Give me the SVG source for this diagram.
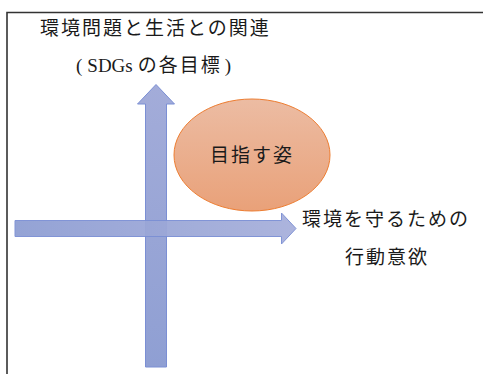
<svg xmlns="http://www.w3.org/2000/svg" width="483" height="374" viewBox="0 0 483 374">
<style>
.t{font-family:"Noto Sans CJK JP","Noto Sans CJK SC",sans-serif;font-size:19px;fill:#1a1a1a;letter-spacing:2px}
.s{font-family:"Liberation Serif","Noto Sans CJK JP",serif;letter-spacing:0}
.arrow{stroke:#7b8fd4;stroke-width:1}
</style>
<defs>
<linearGradient id="gv" x1="0" y1="0" x2="0" y2="1">
<stop offset="0" stop-color="#a3acd9"/>
<stop offset="1" stop-color="#8f9fd3"/>
</linearGradient>
<linearGradient id="gh" x1="0" y1="0" x2="1" y2="0">
<stop offset="0" stop-color="#8f9fd3"/>
<stop offset="1" stop-color="#a8b0dc"/>
</linearGradient>
<linearGradient id="ge" x1="0" y1="0" x2="0" y2="1">
<stop offset="0" stop-color="#ecbca3"/>
<stop offset="1" stop-color="#e9a179"/>
</linearGradient>
</defs>
<rect x="0" y="0" width="483" height="374" fill="#fff"/>
<path d="M7 374 V12.5 H483" fill="none" stroke="#333" stroke-width="1.6"/>
<g id="connectors">
<polygon id="vertical-arrow" class="arrow" fill="url(#gv)" points="145.5,367 145.5,104 137.5,104 156,84.5 174.5,104 166.5,104 166.5,367"/>
<polygon id="horizontal-arrow" class="arrow" fill="url(#gh)" opacity="0.95" points="15,220.5 281.5,220.5 281.5,213 296,228.5 281.5,244 281.5,236.5 15,236.5"/>
</g>
<g id="goal">
<ellipse cx="252" cy="155" rx="78" ry="56" fill="url(#ge)" stroke="#ed7d31" stroke-width="1"/>
<text class="t" x="252" y="162" text-anchor="middle">目指す姿</text>
</g>
<g id="label-y">
<text class="t" x="40" y="35">環境問題と生活との関連</text>
<text class="t s" x="76" y="72">(<tspan dx="5">SDGs</tspan><tspan dx="5" letter-spacing="2px" style="letter-spacing:2px">の各目標</tspan><tspan dx="3">)</tspan></text>
</g>
<g id="label-x">
<text class="t" x="302" y="226">環境を守るための</text>
<text class="t" x="345" y="264">行動意欲</text>
</g>
</svg>
